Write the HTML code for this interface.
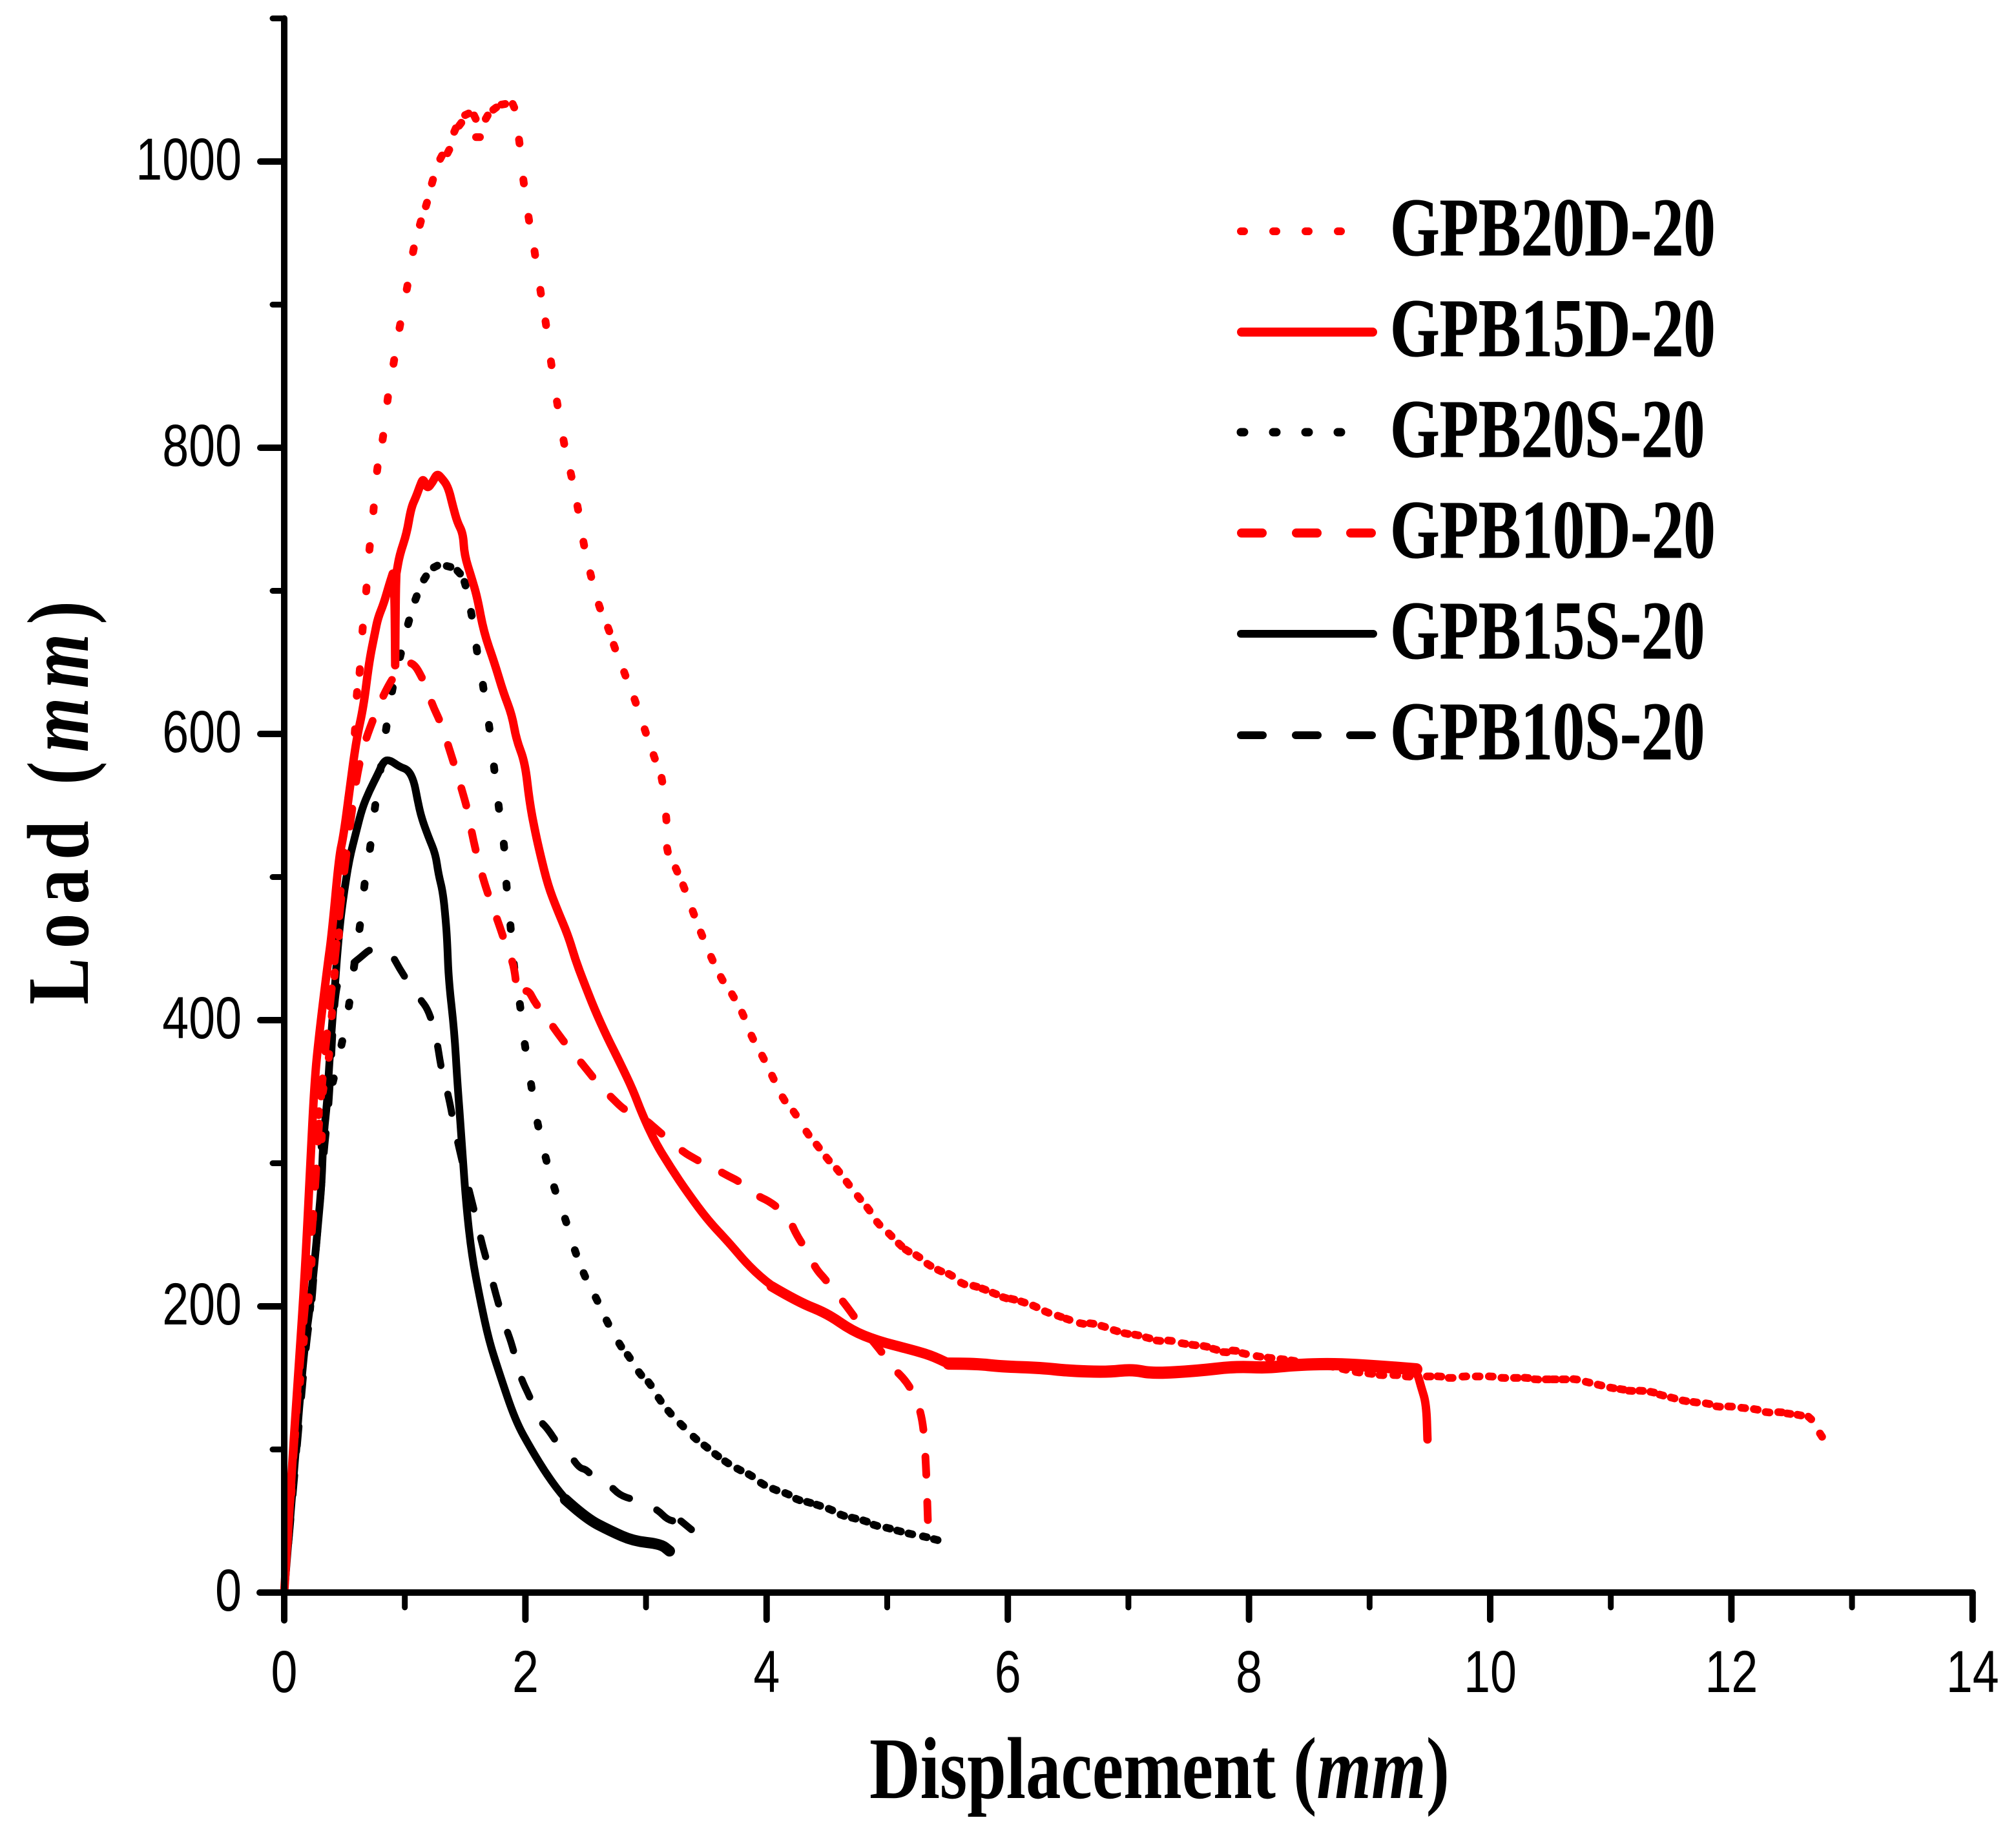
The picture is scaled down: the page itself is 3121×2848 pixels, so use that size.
<!DOCTYPE html>
<html lang="en">
<head>
<meta charset="utf-8">
<title>Load vs Displacement</title>
<style>
html,body{margin:0;padding:0;background:#fff;width:3121px;height:2848px;overflow:hidden}
svg{display:block}
.tick{font-family:"Liberation Sans",Arial,sans-serif;font-size:92px;fill:#000}
.leg{font-family:"Liberation Serif","Times New Roman",serif;font-weight:bold;font-size:128px;fill:#000;stroke:#000;stroke-width:1}
.title{font-family:"Liberation Serif","Times New Roman",serif;font-weight:bold;font-size:136px;fill:#000}
</style>
</head>
<body>
<svg id="chart" xmlns="http://www.w3.org/2000/svg" width="3121" height="2848" viewBox="0 0 3121 2848">
  <rect width="3121" height="2848" fill="#fff"/>
  <g id="marks"></g>
  <g id="axes"></g>

  <text class="title" x="1346" y="2783" textLength="898" lengthAdjust="spacingAndGlyphs">Displacement (<tspan font-style="italic">mm</tspan>)</text>
  <text class="title" transform="translate(136,1555) rotate(-90) scale(.8,1)" textLength="781" lengthAdjust="spacing">Load (<tspan font-style="italic">mm</tspan>)</text>

  <g>
    <g>
      <path d="M1921 358h5M1971 358h5M2021 358h5M2071 358h5" stroke="#f00" stroke-width="12" stroke-linecap="round" fill="none"/>
      <text class="leg" transform="translate(2152,395) scale(.77,1)">GPB20D-20</text>
    </g>
    <g>
      <path d="M1922 514H2125" stroke="#f00" stroke-width="14" stroke-linecap="round" fill="none"/>
      <text class="leg" transform="translate(2152,551) scale(.77,1)">GPB15D-20</text>
    </g>
    <g>
      <path d="M1921 669h5M1971 669h5M2021 669h5M2071 669h5" stroke="#000" stroke-width="13" stroke-linecap="round" fill="none"/>
      <text class="leg" transform="translate(2152,707) scale(.77,1)">GPB20S-20</text>
    </g>
    <g>
      <path d="M1922 825h32M2007 825h32M2091 825h32" stroke="#f00" stroke-width="14" stroke-linecap="round" fill="none"/>
      <text class="leg" transform="translate(2152,863) scale(.77,1)">GPB10D-20</text>
    </g>
    <g>
      <path d="M1921 981H2126" stroke="#000" stroke-width="12" stroke-linecap="round" fill="none"/>
      <text class="leg" transform="translate(2152,1019) scale(.77,1)">GPB15S-20</text>
    </g>
    <g>
      <path d="M1921 1138h34M2006 1138h34M2090 1138h34" stroke="#000" stroke-width="12" stroke-linecap="round" fill="none"/>
      <text class="leg" transform="translate(2152,1175) scale(.77,1)">GPB10S-20</text>
    </g>
  </g>
</svg>
<script>
// Tick values
const xTickLabels = [0, 2, 4, 6, 8, 10, 12, 14];
const xMinorTicks = [1, 3, 5, 7, 9, 11, 13];
const yTickLabels = [0, 200, 400, 600, 800, 1000];
const yMinorTicks = [100, 300, 500, 700, 900, 1100];

// GPB10S-20 (black dashed)
const gpb10sX = [0,.09,.179,.227,.251,.282,.311,.335,.371,.418,.478,.574,.634,.717,.801,.885,.956,1.04,1.124,1.196,1.26,1.303,1.363,1.416,1.471,1.53,1.59,1.645,1.71,1.762,1.829,1.891,1.955,2.041,2.117,2.18,2.274,2.35,2.444,2.511,2.602,2.688,2.782,2.895,3.083,3.188,3.29,3.376];
const gpb10sY = [0,85,172,200,228,257,286,313,339,420,432,440,444,450,450,447,436,425,415,407,389,365,347,323,303,282,262,242,223,206,187,173,151,136,120,115,103,99,87,86,76,76,68,65,59,50,50,44];

// GPB20S-20 (black dotted)
const gpb20sX = [.05,.1,.143,.179,.215,.239,.275,.299,.311,.359,.407,.478,.538,.58,.626,.665,.713,.753,.8,.846,.897,.964,1.031,1.093,1.167,1.255,1.363,1.447,1.499,1.552,1.597,1.65,1.7,1.741,1.779,1.822,1.844,1.877,1.906,1.956,1.997,2.049,2.104,2.171,2.243,2.334,2.415,2.489,2.59,2.68,2.786,2.857,2.951,3.03,3.113,3.195,3.297,3.406,3.496,3.586,3.669,3.771,3.865,3.966,4.068,4.169,4.259,4.35,4.429,4.53,4.628,4.722,4.816,4.902,5.008,5.098,5.192,5.312,5.402];
const gpb20sY = [50,100,148,172,199,228,257,286,313,342,358,384,411,438,465,494,521,549,576,604,631,655,678,695,709,717,717,713,705,684,659,633,605,576,549,522,494,465,438,410,382,354,327,303,282,260,238,222,205,189,173,165,153,146,135,126,117,108,102,96,91,86,82,76,72,69,65,63,61,58,54,52,50,47,45,43,41,39,37];

// GPB15S-20 (black solid)
const gpb15sX = [0,.08,.167,.215,.251,.282,.311,.323,.359,.371,.418,.454,.49,.538,.598,.646,.705,.777,.825,.873,.956,1.028,1.076,1.105,1.136,1.196,1.255,1.279,1.315,1.339,1.351,1.363,1.411,1.435,1.471,1.506,1.554,1.626,1.698,1.781,1.917,2.049,2.18,2.331,2.5,2.707,2.895,3.12,3.195];
const gpb15sY = [0,85,172,200,230,259,287,317,345,367,422,461,486,512,532,548,560,572,581,582,577,575,567,554,542,528,516,502,490,470,456,428,392,357,317,273,236,204,176,154,120,100,82,65,52,43,36,34,29];

// GPB10D-20 (red dashed)
const gpb10dX = [0,.07,.143,.239,.3,.407,.478,.55,.626,.765,.913,1.052,1.172,1.224,1.303,1.363,1.423,1.483,1.523,1.566,1.638,1.698,1.781,1.836,1.908,1.932,1.932,2.02,2.08,2.176,2.248,2.355,2.427,2.523,2.618,2.714,2.81,2.881,2.989,3.109,3.222,3.324,3.41,3.512,3.598,3.683,3.758,3.837,3.929,4.008,4.093,4.189,4.247,4.339,4.41,4.486,4.578,4.656,4.742,4.81,4.974,5.059,5.145,5.22,5.295,5.322,5.338];
const gpb10dY = [0,88,176,257,347,432,490,540,584,617,642,653,635,621,607,591,575,558,546,526,502,486,467,453,438,417,417,422,412,402,393,381,374,364,354,346,338,335,331,322,314,307,303,298,295,291,288,283,277,274,269,261,250,238,226,219,209,201,191,183,166,156,149,139,122,90,48];

// GPB20D-20 (red dotted)
const gpb20dX = [.03,.06,.09,.132,.163,.203,.227,.239,.263,.311,.287,.323,.371,.395,.418,.454,.43,.466,.49,.531,.567,.586,.603,.626,.65,.681,.708,.741,.772,.818,.858,.909,.959,1.019,1.071,1.129,1.179,1.229,1.301,1.361,1.416,1.459,1.514,1.581,1.607,1.679,1.746,1.817,1.901,1.949,1.985,2.028,2.078,2.126,2.169,2.214,2.264,2.319,2.379,2.434,2.484,2.542,2.614,2.69,2.738,2.824,2.91,2.994,3.068,3.132,3.168,3.178,3.253,3.314,3.393,3.461,3.546,3.628,3.721,3.803,3.881,3.97,4.052,4.141,4.233,4.339,4.424,4.506,4.592,4.673,4.766,4.844,4.926,5.025,5.107,5.165,5.254,5.346,5.435,5.524,5.626,5.729,5.801,5.889,5.975,6.04,6.125,6.224,6.323,6.429,6.497,6.613,6.695,6.791,6.893,6.982,7.068,7.16,7.249,7.344,7.457,7.542,7.638,7.716,7.802,7.877,7.959,8.079,8.171,8.277,8.365,8.47,8.57,8.68,8.79,8.9,9.005,9.098,9.213,9.316,9.491,9.579,9.672,9.786,9.896,10.005,10.109,10.213,10.3,10.382,10.475,10.53,10.612,10.704,10.808,10.907,11.01,11.092,11.164,11.251,11.344,11.42,11.513,11.611,11.699,11.803,11.89,11.989,12.098,12.202,12.3,12.404,12.475,12.562,12.65,12.743];
const gpb20dY = [35,70,110,148,176,205,231,262,295,318,335,351,375,404,432,460,476,489,516,555,574,602,628,644,673,701,730,757,785,807,834,860,885,912,938,957,970,986,1003,1007,1022,1026,1033,1031,1017,1031,1037,1040,1039,1014,986,960,936,909,887,859,831,804,781,758,733,711,689,673,661,642,623,602,584,568,541,519,505,493,475,460,443,429,417,404,388,374,360,345,335,321,312,303,295,286,276,268,258,250,243,239,235,229,225,222,216,214,212,209,206,205,203,200,196,193,191,188,188,186,183,181,180,178,176,176,174,173,172,170,168,169,167,165,164,163,162,160,159,158,156,154,153,152,152,151,151,151,150,151,151,151,150,150,150,149,149,149,149,149,147,145,143,142,141,141,140,138,136,134,133,132,130,130,129,128,126,126,125,124,122,110];

// GPB15D-20 (red solid)
const gpb15dX = [0,.05,.107,.167,.215,.251,.287,.359,.395,.454,.49,.538,.598,.658,.705,.753,.777,.825,.873,.9,.9,.915,.92,.92,.925,.93,.93,.956,1.016,1.052,1.095,1.124,1.153,1.184,1.231,1.267,1.303,1.358,1.399,1.435,1.483,1.494,1.554,1.602,1.655,1.746,1.817,1.889,1.925,1.997,2.033,2.08,2.128,2.188,2.26,2.355,2.415,2.487,2.571,2.678,2.786,2.893,2.965,3.073,3.204,3.348,3.515,3.683,3.854,4.042,4.264,4.503,4.708,4.913,5.186,5.357,5.51,5.732,5.937,6.279,6.501,6.825,7.03,7.2,7.577,7.884,8.157,8.355,8.704,9.087,9.387,9.426,9.47,9.48];
const gpb15dY = [0,70,142,216,297,357,388,438,460,514,528,558,596,619,651,671,681,691,705,712,712,700,648,648,700,712,712,725,740,758,766,773,779,771,776,782,779,773,759,748,740,725,709,695,671,649,629,613,596,580,553,532,514,494,478,459,442,426,408,388,370,351,335,315,297,279,260,245,228,214,203,195,183,176,170,166,160,160,158,157,155,154,156,153,155,158,157,159,160,158,156,144,132,107];

// Axis functions (data -> pixel)
function xScale(v) { return 440 + v * 186.7; }
function yScale(v) { return 2465 - v * 2.215; }

const NS = 'http://www.w3.org/2000/svg';
const marks = document.getElementById('marks');
const axes = document.getElementById('axes');

// Smooth path through midpoints of consecutive readings
function pathFrom(xs, ys) {
  const px = xs.map(xScale), py = ys.map(yScale);
  let d = 'M' + px[0].toFixed(1) + ' ' + py[0].toFixed(1);
  for (let i = 1; i < px.length - 1; i++) {
    const mx = (px[i] + px[i + 1]) / 2, my = (py[i] + py[i + 1]) / 2;
    d += 'Q' + px[i].toFixed(1) + ' ' + py[i].toFixed(1) + ' ' + mx.toFixed(1) + ' ' + my.toFixed(1);
  }
  d += 'L' + px[px.length - 1].toFixed(1) + ' ' + py[py.length - 1].toFixed(1);
  return d;
}

// Portion of a series between two displacements (drawn heavier where the record is noisy)
function rangePath(xs, ys, from, to) {
  const sx = [], sy = [];
  for (let i = 0; i < xs.length; i++) {
    if (xs[i] >= from && xs[i] <= to) { sx.push(xs[i]); sy.push(ys[i]); }
  }
  return pathFrom(sx, sy);
}

function makePath(d, color, width, dash) {
  const p = document.createElementNS(NS, 'path');
  p.setAttribute('d', d);
  p.setAttribute('fill', 'none');
  p.setAttribute('stroke', color);
  p.setAttribute('stroke-width', width);
  p.setAttribute('stroke-linecap', 'round');
  p.setAttribute('stroke-linejoin', 'round');
  if (dash) p.setAttribute('stroke-dasharray', dash);
  return p;
}

function dottedGroup(xs, ys, color, width) {
  const g = document.createElementNS(NS, 'g');
  for (let i = 0; i < xs.length; i++) {
    const a = Math.max(i - 1, 0), b = Math.min(i + 1, xs.length - 1);
    const dx = xScale(xs[b]) - xScale(xs[a]);
    const dy = yScale(ys[b]) - yScale(ys[a]);
    const len = Math.hypot(dx, dy) || 1;
    const cx = xScale(xs[i]), cy = yScale(ys[i]);
    const ux = dx / len * 3, uy = dy / len * 3;
    const dot = makePath('M' + (cx - ux).toFixed(1) + ' ' + (cy - uy).toFixed(1) + 'L' + (cx + ux).toFixed(1) + ' ' + (cy + uy).toFixed(1), color, width);
    
    
    g.appendChild(dot);
  }
  return g;
}

// Series, black underneath red
const s10s = makePath(pathFrom(gpb10sX, gpb10sY), '#000', 11, '30 46');


marks.appendChild(s10s);

const s10sEnd = makePath(rangePath(gpb10sX, gpb10sY, 3.29, 3.4), '#000', 11);


marks.appendChild(s10sEnd);

const s20s = dottedGroup(gpb20sX, gpb20sY, '#000', 12);


marks.appendChild(s20s);

const s15s = makePath(pathFrom(gpb15sX, gpb15sY), '#000', 12);


marks.appendChild(s15s);

const s15sTail = makePath(rangePath(gpb15sX, gpb15sY, 2.3, 3.2), '#000', 17);


marks.appendChild(s15sTail);

const s10d = makePath(pathFrom(gpb10dX, gpb10dY), '#f00', 12, '28 42');


marks.appendChild(s10d);

const s20d = dottedGroup(gpb20dX, gpb20dY, '#f00', 12);


marks.appendChild(s20d);

const s15d = makePath(pathFrom(gpb15dX, gpb15dY), '#f00', 13);


marks.appendChild(s15d);

const s15dMid = makePath(rangePath(gpb15dX, gpb15dY, 3.9, 5.6), '#f00', 16);


marks.appendChild(s15dMid);

const s15dPlateau = makePath(rangePath(gpb15dX, gpb15dY, 5.5, 9.39), '#f00', 19);


marks.appendChild(s15dPlateau);

// Axes
const yAxis = makePath('M' + xScale(0) + ' ' + yScale(1100) + 'V' + (yScale(0) + 43), '#000', 10);


axes.appendChild(yAxis);

const xAxis = makePath('M' + (xScale(0) - 38) + ' ' + yScale(0) + 'H' + xScale(14), '#000', 10);


axes.appendChild(xAxis);

function tickLabel(txt, x, y, anchor) {
  const t = document.createElementNS(NS, 'text');
  t.setAttribute('class', 'tick');
  t.setAttribute('text-anchor', anchor);
  t.setAttribute('transform', 'translate(' + x + ',' + y + ') scale(.8,1)');
  t.textContent = txt;
  return t;
}

xTickLabels.forEach(function (v) {
  const px = xScale(v);
  const tick = makePath('M' + px + ' ' + yScale(0) + 'v42', '#000', 10);
  
  
  axes.appendChild(tick);
  const label = tickLabel(String(v), px, 2619, 'middle');
  
  
  axes.appendChild(label);
});

xMinorTicks.forEach(function (v) {
  const tick = makePath('M' + xScale(v) + ' ' + yScale(0) + 'v23', '#000', 9);
  
  
  axes.appendChild(tick);
});

yTickLabels.forEach(function (v) {
  const py = yScale(v);
  const tick = makePath('M' + xScale(0) + ' ' + py + 'h-37', '#000', 10);
  
  
  axes.appendChild(tick);
  const label = tickLabel(String(v), 374, py + 28, 'end');
  
  
  axes.appendChild(label);
});

yMinorTicks.forEach(function (v) {
  const tick = makePath('M' + xScale(0) + ' ' + yScale(v) + 'h-18', '#000', 9);
  
  
  axes.appendChild(tick);
});
</script>
</body>
</html>
